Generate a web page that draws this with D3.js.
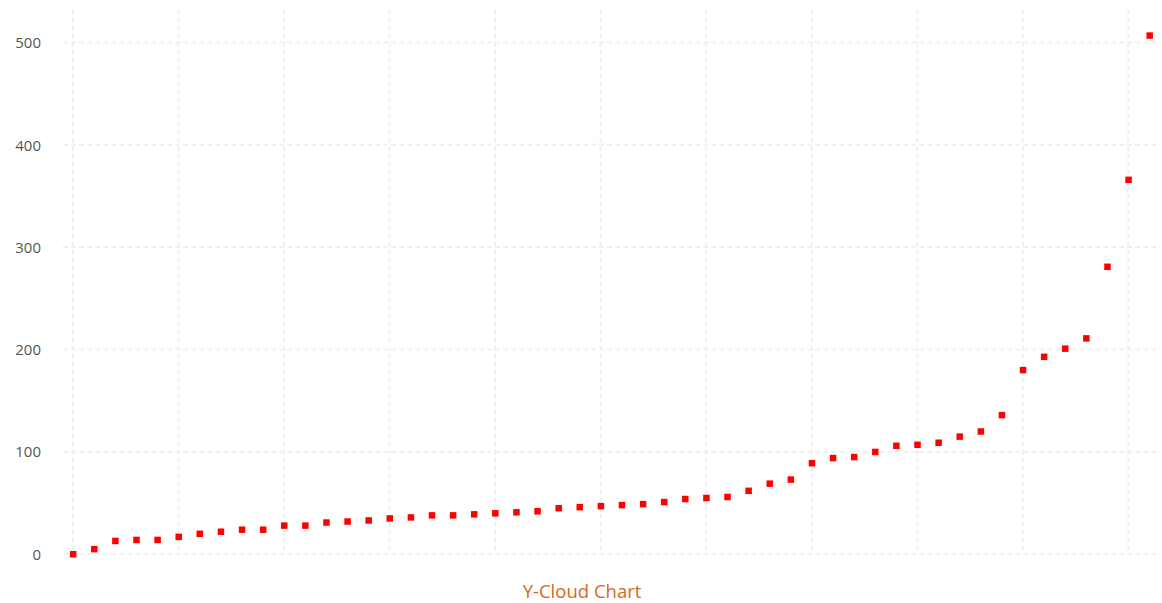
<!DOCTYPE html>
<html>
<head>
<meta charset="utf-8">
<script src="https://cdn.jsdelivr.net/npm/d3@7"></script>
<style>
  html, body { margin: 0; padding: 0; background: #ffffff; }
  svg { display: block; }
</style>
</head>
<body>
<svg id="chart" width="1162" height="603"></svg>
<script>
// Sorted sample values, one point per position
const values = [
  0, 5, 13, 14, 14, 17, 20, 22, 24, 24,
  28, 28, 31, 32, 33, 35, 36, 38, 38, 39,
  40, 41, 42, 45, 46, 47, 48, 49, 51, 54,
  55, 56, 62, 69, 73, 89, 94, 95, 100, 106,
  107, 109, 115, 120, 136, 180, 193, 201, 211, 281,
  366, 507
];
const yTicks = [0, 100, 200, 300, 400, 500];
const xGridEvery = 5;
const chartTitle = "Y-Cloud Chart";

const svg = d3.select("#chart");
const margin = { left: 63, right: 2, top: 10, bottom: 49 };
const W = 1162, H = 603;

const x = d3.scaleLinear()
  .domain([-0.47, values.length - 0.5])
  .range([margin.left, W - margin.right]);

const y = d3.scaleLinear()
  .domain([0, 500])
  .range([554, 42.5]);

const topY = margin.top;

// horizontal grid lines
svg.append("g")
  .selectAll("line")
  .data(yTicks)
  .join("line")
  .attr("x1", margin.left)
  .attr("x2", W - margin.right)
  .attr("y1", d => y(d))
  .attr("y2", d => y(d))
  .attr("stroke", "#f0f0f0")
  .attr("stroke-width", 2)
  .attr("stroke-dasharray", "5,3");

// vertical grid lines every few points
const xGrid = d3.range(0, values.length, xGridEvery);
svg.append("g")
  .selectAll("line")
  .data(xGrid)
  .join("line")
  .attr("x1", d => x(d))
  .attr("x2", d => x(d))
  .attr("y1", topY)
  .attr("y2", y(0))
  .attr("stroke", "#f0f0f0")
  .attr("stroke-width", 2)
  .attr("stroke-dasharray", "5,3");

// y axis labels
const yAxis = d3.axisLeft(y).tickValues(yTicks).tickSize(0).tickPadding(0);
const gy = svg.append("g")
  .attr("transform", "translate(41,0)")
  .call(yAxis);
gy.select(".domain").remove();
gy.selectAll("text")
  .attr("fill", "#555")
  .attr("font-family", "'Open Sans', sans-serif")
  .attr("font-size", 15)
  .attr("dy", "0.35em");

// points
svg.append("g")
  .selectAll("rect")
  .data(values)
  .join("rect")
  .attr("x", (d, i) => x(i) - 3)
  .attr("y", d => y(d) - 3)
  .attr("width", 6.5)
  .attr("height", 6.5)
  .attr("fill", "#ff0000");

// title
svg.append("text")
  .attr("x", 582)
  .attr("y", 598)
  .attr("text-anchor", "middle")
  .attr("fill", "#dc661c")
  .attr("font-family", "'Open Sans', sans-serif")
  .attr("font-size", 18.5)
  .text(chartTitle);
</script>
</body>
</html>
